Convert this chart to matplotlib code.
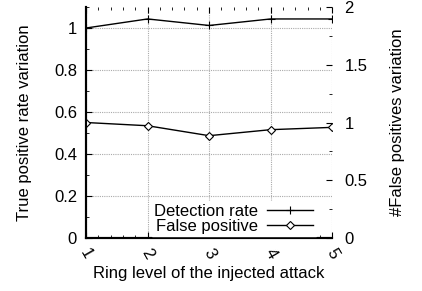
import matplotlib
matplotlib.use('Agg')
import matplotlib.pyplot as plt
import matplotlib.transforms as mtransforms
from matplotlib.ticker import MultipleLocator, FormatStrFormatter

plt.rcParams['font.family'] = ['Liberation Sans', 'DejaVu Sans']
plt.rcParams['font.size'] = 12

# ── data ──
ring_level = [1, 2, 3, 4, 5]
detection_rate = [1.0, 1.043, 1.012, 1.043, 1.043]
false_positive = [1.0, 0.972, 0.886, 0.938, 0.958]

fig = plt.figure(figsize=(4.22, 2.91), dpi=100)
ax1 = fig.add_axes([0.204, 0.182, 0.583, 0.794])
ax2 = ax1.twinx()

l1, = ax1.plot(ring_level, detection_rate, color='black', lw=1,
               marker='+', ms=6, mew=0.8, label='Detection rate')
l2, = ax2.plot(ring_level, false_positive, color='black', lw=1,
               marker='D', ms=4, mfc='white', mew=0.8, label='False positive')

ax1.set_xlim(1, 5)
ax1.set_ylim(0, 1.1)
ax2.set_ylim(0, 2)
ax1.set_xticks(ring_level)
ax1.set_xticklabels([str(v) for v in ring_level], rotation=-60, ha='center', va='center',
                    rotation_mode='anchor')
offset = mtransforms.ScaledTranslation(6 / 100, 0, fig.dpi_scale_trans)
for lab in ax1.get_xticklabels():
    lab.set_transform(lab.get_transform() + offset)
ax1.xaxis.set_minor_locator(MultipleLocator(0.2))
ax1.yaxis.set_major_locator(MultipleLocator(0.2))
ax1.yaxis.set_minor_locator(MultipleLocator(0.1))
ax1.yaxis.set_major_formatter(FormatStrFormatter('%g'))
ax2.yaxis.set_major_locator(MultipleLocator(0.5))
ax2.yaxis.set_minor_locator(MultipleLocator(0.25))
ax2.yaxis.set_major_formatter(FormatStrFormatter('%g'))

ax1.tick_params(axis='both', which='both', direction='in', top=True)
ax1.tick_params(which='major', length=4)
ax1.tick_params(which='minor', length=2)
ax1.tick_params(axis='x', which='major', pad=11)
ax1.tick_params(axis='y', which='major', pad=6.5)
ax2.tick_params(axis='y', which='both', direction='in')
ax2.tick_params(which='major', length=4, pad=9)
ax2.tick_params(which='minor', length=2)

ax1.grid(True, color='#aaaaaa', linestyle=(0, (1, 1)), lw=0.8)
ax1.set_axisbelow(True)

for ax in (ax1, ax2):
    ax.spines['top'].set_visible(False)
    ax.spines['right'].set_visible(False)
    ax.spines['left'].set_linewidth(1.5)
    ax.spines['bottom'].set_linewidth(1.5)

ax1.set_xlabel('Ring level of the injected attack', va='center')
ax1.xaxis.set_label_coords(0.5, -0.152)
ax1.set_ylabel('True positive rate variation', va='center')
ax1.yaxis.set_label_coords(-0.252, 0.5)
ax2.set_ylabel('#False positives variation', va='center', rotation=90)
ax2.yaxis.set_label_coords(1.264, 0.5)

leg = ax2.legend([l1, l2], ['Detection rate', 'False positive'], loc='lower right',
                 markerfirst=False, frameon=True, fancybox=False, framealpha=1,
                 edgecolor='white', handlelength=2.8, borderpad=0.15, fontsize=12,
                 labelspacing=0.0, handletextpad=0.5, borderaxespad=0.1)
leg.set_bbox_to_anchor((0.94, 0.0), transform=ax2.transAxes)

plt.savefig('out.png', dpi=100)
